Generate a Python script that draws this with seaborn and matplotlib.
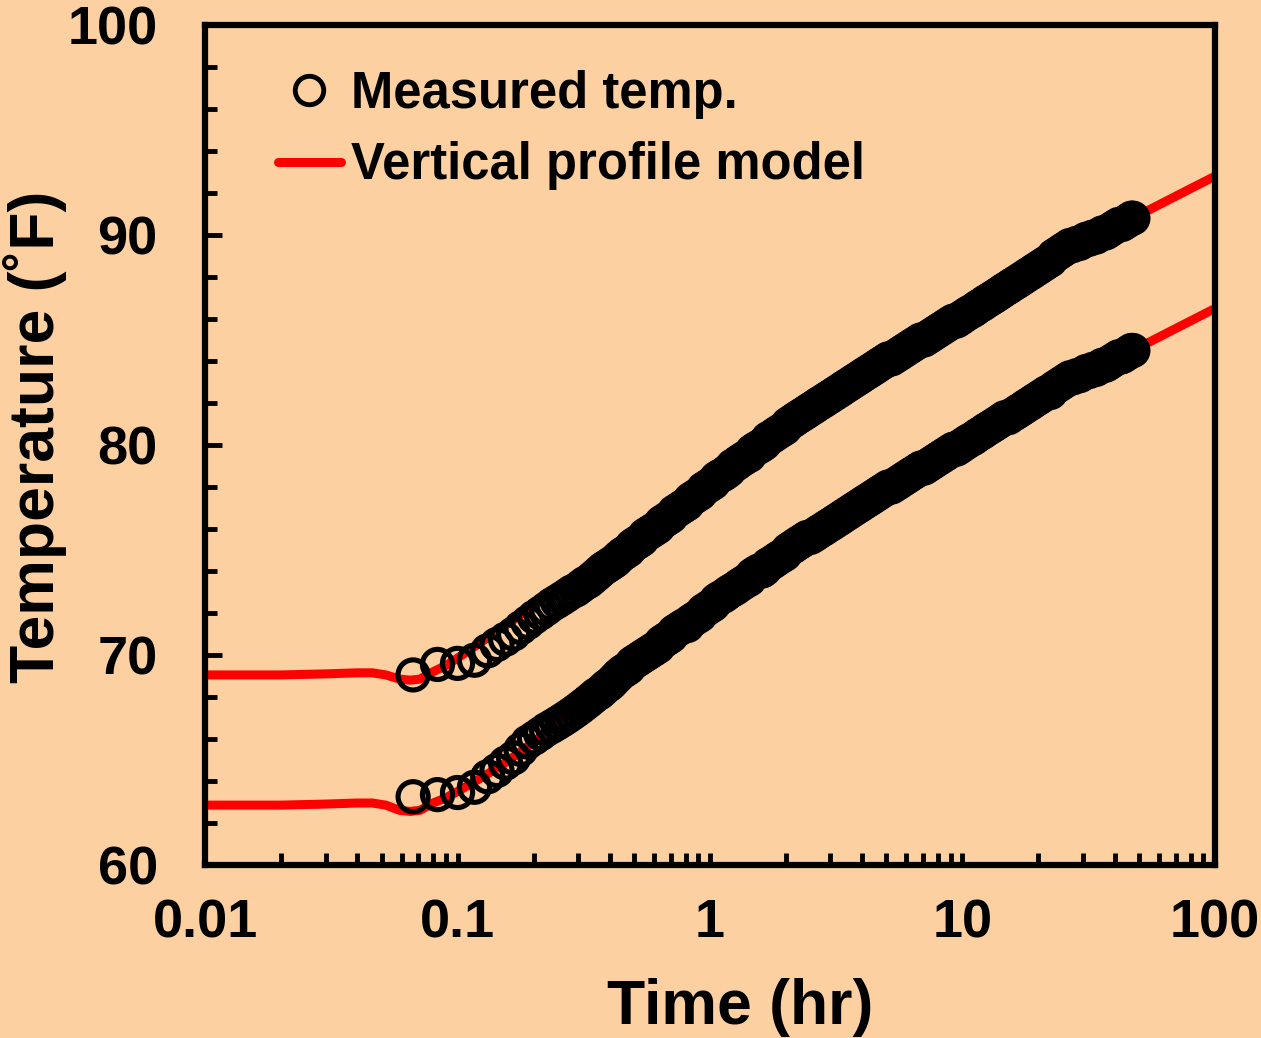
import pandas as pd
import seaborn as sns
import matplotlib.pyplot as plt
from matplotlib.lines import Line2D
from matplotlib.ticker import LogLocator, NullFormatter, MultipleLocator, FixedLocator, FixedFormatter

# measured temperatures (two probes), time in hours
measured_time = [
    0.0667, 0.0833, 0.1, 0.1167, 0.1317, 0.1433, 0.155, 0.1667, 0.1783, 0.19,
    0.2017, 0.2133, 0.225, 0.2367, 0.2483, 0.26, 0.2717, 0.2833, 0.295, 0.3067,
    0.3183, 0.33, 0.3417, 0.3533, 0.365, 0.3767, 0.3883, 0.4, 0.4117, 0.4233,
    0.435,
    0.45, 0.464, 0.477, 0.492, 0.506, 0.522, 0.537, 0.553, 0.570, 0.587,
    0.605, 0.623, 0.642, 0.661, 0.681, 0.701, 0.722, 0.744, 0.766, 0.789,
    0.813, 0.837, 0.862, 0.888, 0.915, 0.942, 0.971, 1.00, 1.03, 1.06,
    1.09, 1.13, 1.16, 1.19, 1.23, 1.27, 1.30, 1.34, 1.38, 1.43,
    1.47, 1.51, 1.56, 1.61, 1.65, 1.70, 1.76, 1.81, 1.86, 1.92,
    1.98, 2.04, 2.10, 2.16, 2.22, 2.29, 2.36, 2.43, 2.50, 2.58,
    2.65, 2.73, 2.82, 2.90, 2.99, 3.08, 3.17, 3.27, 3.36, 3.46,
    3.57, 3.67, 3.78, 3.90, 4.01, 4.13, 4.26, 4.39, 4.52, 4.65,
    4.79, 4.94, 5.08, 5.24, 5.39, 5.56, 5.72, 5.89, 6.07, 6.25,
    6.44, 6.64, 6.83, 7.04, 7.25, 7.47, 7.69, 7.92, 8.16, 8.41,
    8.66, 8.92, 9.19, 9.46, 9.74, 10.0, 10.3, 10.6, 11.0, 11.3,
    11.6, 12.0, 12.3, 12.7, 13.1, 13.5, 13.9, 14.3, 14.7, 15.2,
    15.6, 16.1, 16.6, 17.1, 17.6, 18.1, 18.7, 19.2, 19.8, 20.4,
    21.0, 21.6, 22.3, 23.0, 23.7, 24.4, 25.1, 25.9, 26.6, 27.4,
    28.3, 29.1, 30.0, 30.9, 31.8, 32.8, 33.8, 34.8, 35.8, 36.9,
    38.0, 39.1, 40.3, 41.5, 42.8, 44.1, 45.4, 46.7, 47.3,
]
temp_upper = [
    69.05, 69.55, 69.6, 69.75, 70.2, 70.5, 70.75, 71.0, 71.3, 71.55,
    71.8, 72.0, 72.2, 72.4, 72.55, 72.7, 72.85, 73.0, 73.1, 73.25,
    73.4, 73.5, 73.65, 73.8, 73.95, 74.1, 74.2, 74.3, 74.4, 74.5,
    74.65,
    74.8, 74.9, 75.0, 75.2, 75.3, 75.4, 75.5, 75.7, 75.8, 75.9,
    76.0, 76.1, 76.3, 76.4, 76.5, 76.6, 76.8, 76.9, 77.0, 77.1,
    77.2, 77.4, 77.5, 77.6, 77.7, 77.9, 78.0, 78.1, 78.2, 78.4,
    78.5, 78.6, 78.7, 78.8, 79.0, 79.1, 79.2, 79.3, 79.4, 79.5,
    79.7, 79.8, 79.9, 80.0, 80.1, 80.3, 80.4, 80.5, 80.6, 80.7,
    80.8, 81.0, 81.1, 81.2, 81.3, 81.4, 81.5, 81.6, 81.7, 81.8,
    81.9, 82.0, 82.1, 82.2, 82.3, 82.4, 82.5, 82.6, 82.7, 82.8,
    82.9, 83.0, 83.1, 83.2, 83.3, 83.4, 83.5, 83.6, 83.7, 83.8,
    83.9, 84.0, 84.1, 84.1, 84.2, 84.3, 84.4, 84.5, 84.6, 84.7,
    84.8, 84.9, 85.0, 85.0, 85.1, 85.2, 85.3, 85.4, 85.5, 85.6,
    85.7, 85.8, 85.9, 85.9, 86.0, 86.1, 86.2, 86.3, 86.4, 86.5,
    86.6, 86.7, 86.8, 86.9, 87.0, 87.1, 87.2, 87.3, 87.4, 87.5,
    87.6, 87.7, 87.8, 87.9, 88.0, 88.1, 88.2, 88.3, 88.4, 88.5,
    88.6, 88.7, 88.8, 89.0, 89.1, 89.2, 89.3, 89.4, 89.5, 89.5,
    89.6, 89.6, 89.7, 89.8, 89.8, 89.9, 89.9, 90.0, 90.1, 90.1,
    90.2, 90.3, 90.4, 90.5, 90.5, 90.6, 90.7, 90.8, 90.8,
]
temp_lower = [
    63.25, 63.35, 63.45, 63.7, 64.2, 64.5, 64.85, 65.1, 65.5, 65.85,
    66.05, 66.25, 66.45, 66.6, 66.75, 66.9, 67.05, 67.2, 67.35, 67.5,
    67.65, 67.8, 67.95, 68.1, 68.2, 68.35, 68.5, 68.6, 68.75, 68.9,
    69.05,
    69.2, 69.3, 69.4, 69.6, 69.7, 69.8, 69.9, 70.0, 70.1, 70.2,
    70.3, 70.4, 70.6, 70.7, 70.8, 70.9, 71.1, 71.2, 71.3, 71.4,
    71.4, 71.6, 71.7, 71.8, 71.9, 72.1, 72.2, 72.3, 72.4, 72.6,
    72.7, 72.8, 72.9, 73.0, 73.1, 73.2, 73.3, 73.4, 73.5, 73.6,
    73.8, 73.9, 74.0, 74.0, 74.1, 74.3, 74.4, 74.5, 74.6, 74.7,
    74.8, 75.0, 75.1, 75.2, 75.3, 75.4, 75.5, 75.6, 75.6, 75.7,
    75.8, 75.9, 76.0, 76.1, 76.2, 76.3, 76.4, 76.5, 76.6, 76.7,
    76.8, 76.9, 77.0, 77.1, 77.2, 77.3, 77.4, 77.5, 77.6, 77.7,
    77.8, 77.9, 78.0, 78.0, 78.1, 78.2, 78.3, 78.4, 78.5, 78.6,
    78.7, 78.8, 78.9, 78.9, 79.0, 79.1, 79.2, 79.3, 79.4, 79.5,
    79.6, 79.7, 79.8, 79.8, 79.9, 80.0, 80.1, 80.2, 80.3, 80.4,
    80.5, 80.6, 80.7, 80.8, 80.9, 81.0, 81.1, 81.2, 81.3, 81.3,
    81.4, 81.5, 81.6, 81.7, 81.8, 81.9, 82.0, 82.1, 82.2, 82.3,
    82.4, 82.5, 82.5, 82.7, 82.8, 82.9, 83.0, 83.1, 83.2, 83.2,
    83.3, 83.3, 83.4, 83.5, 83.5, 83.6, 83.6, 83.7, 83.8, 83.8,
    83.9, 84.0, 84.1, 84.2, 84.2, 84.3, 84.4, 84.5, 84.5,
]

# vertical profile model
model_time = [0.01, 0.015, 0.02, 0.03, 0.04, 0.046, 0.052, 0.059, 0.065, 0.071,
              0.08, 0.09, 0.1, 0.12, 0.15, 0.2, 0.27, 0.37, 0.5, 0.7,
              1, 1.5, 2, 3, 5, 10, 14, 19, 26, 35, 47.3, 70, 100]
model_upper = [69.05, 69.05, 69.05, 69.1, 69.15, 69.15, 69.05, 68.85, 68.8, 68.85,
               69.2, 69.5, 69.85, 70.5, 71.3, 72.35, 73.45, 74.5, 75.5, 76.7,
               78.1, 79.7, 80.9, 82.3, 84.0, 86.1, 87.2, 88.2, 89.2, 90.0, 90.8, 91.85, 92.8]
model_lower = [62.85, 62.85, 62.85, 62.9, 62.95, 62.95, 62.85, 62.6, 62.55, 62.6,
               62.95, 63.2, 63.5, 64.05, 64.75, 65.85, 67.1, 68.4, 69.7, 71.0,
               72.3, 73.8, 74.9, 76.2, 77.9, 80.1, 81.0, 82.0, 83.0, 83.75, 84.5, 85.55, 86.5]

x_ticks = [0.01, 0.1, 1, 10, 100]
x_tick_labels = ["0.01", "0.1", "1", "10", "100"]

meas = pd.concat([
    pd.DataFrame({"time": measured_time, "temp": temp_upper, "probe": "upper"}),
    pd.DataFrame({"time": measured_time, "temp": temp_lower, "probe": "lower"}),
])
model = pd.concat([
    pd.DataFrame({"time": model_time, "temp": model_upper, "probe": "upper"}),
    pd.DataFrame({"time": model_time, "temp": model_lower, "probe": "lower"}),
])

bg = "#FDD0A2"
sns.set_theme(style="ticks")
plt.rcParams["font.family"] = ["Liberation Sans", "DejaVu Sans"]
plt.rcParams["font.weight"] = "bold"
for key in ["text.color", "axes.labelcolor", "xtick.color", "ytick.color"]:
    plt.rcParams[key] = "black"

fig = plt.figure(figsize=(12.61, 10.38), dpi=100, facecolor=bg)
ax = fig.add_axes([0.1626, 0.1667, 0.8009, 0.8092])
ax.set_facecolor(bg)

sns.lineplot(data=model, x="time", y="temp", units="probe", estimator=None,
             color="red", lw=6.5, sort=True, ax=ax, zorder=2)
sns.scatterplot(data=meas, x="time", y="temp", marker="o", s=470,
                facecolor="none", edgecolor="black", linewidth=3.7, ax=ax, zorder=3)

ax.set_xscale("log")
ax.set_xlim(0.01, 100)
ax.set_ylim(60, 100)
ax.xaxis.set_major_locator(FixedLocator(x_ticks))
ax.xaxis.set_major_formatter(FixedFormatter(x_tick_labels))
ax.xaxis.set_minor_locator(LogLocator(base=10, subs=range(2, 10)))
ax.xaxis.set_minor_formatter(NullFormatter())
ax.yaxis.set_major_locator(MultipleLocator(10))
ax.yaxis.set_minor_locator(MultipleLocator(2))

for s in ax.spines.values():
    s.set_linewidth(4.5)
    s.set_color("black")
ax.tick_params(which="both", direction="in", top=False, right=False,
               width=3.5, color="black", labelcolor="black", labelsize=39)
ax.tick_params(axis="y", which="major", length=12, pad=34)
ax.tick_params(axis="y", which="minor", length=8.4)
ax.tick_params(axis="x", which="both", length=9, pad=24)
for lab in ax.get_xticklabels() + ax.get_yticklabels():
    lab.set_fontweight("bold")

ax.set_xlabel("Time (hr)", fontsize=45, fontweight="bold", color="black")
ax.set_ylabel("Temperature (˚F)", fontsize=45, fontweight="bold", color="black")
ax.xaxis.set_label_coords(0.53, -0.135)
ax.yaxis.set_label_coords(-0.137, 0.51)

handles = [
    Line2D([], [], ls="none", marker="o", ms=20.5, mfc="none", mec="black", mew=3.5),
    Line2D([], [], color="red", lw=6.5, solid_capstyle="round"),
]
leg = ax.legend(handles, ["Measured temp.", "Vertical profile model"], loc="upper left",
                bbox_to_anchor=(0.072, 0.947), frameon=False, borderaxespad=0, borderpad=0,
                handlelength=1.25, handletextpad=0.2, labelspacing=0.45,
                prop={"size": 36.5, "weight": "bold"})
for t in leg.get_texts():
    t.set_color("black")

fig.savefig("out.png", dpi=100, facecolor=bg)
